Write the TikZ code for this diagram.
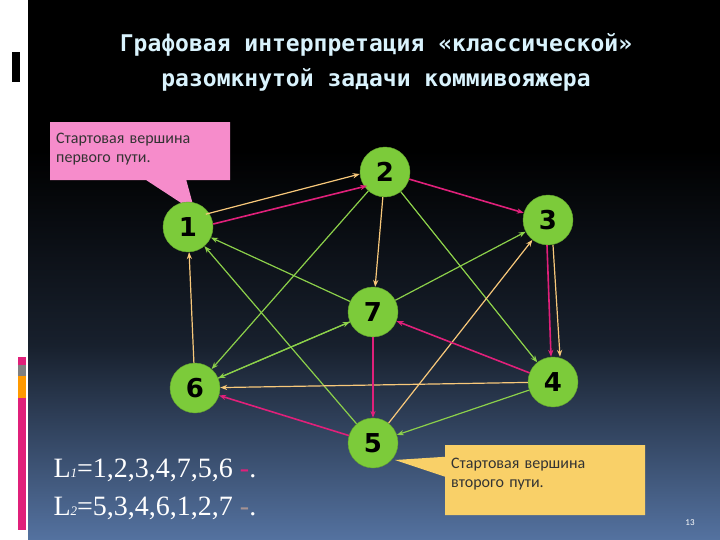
\documentclass[tikz,border=0pt]{standalone}
\usepackage{fontspec}
\setmainfont{Liberation Serif}
\newfontfamily\titlef{DejaVu Sans Mono}
\newfontfamily\calf{Carlito}
\newfontfamily\numf{DejaVu Sans}
\usetikzlibrary{arrows.meta,shapes.callouts}
\definecolor{ngreen}{HTML}{7CCB3A}
\definecolor{pinkc}{HTML}{E0207A}
\definecolor{yelc}{HTML}{F8C87A}
\definecolor{grc}{HTML}{8CD04A}
\definecolor{botblue}{HTML}{5472A0}
\begin{document}
\begin{tikzpicture}[x=1pt,y=-1pt,
 vx/.style={circle,fill=ngreen,draw=ngreen!80!black,minimum size=50pt,inner sep=0pt,font=\numf\bfseries\fontsize{26}{26}\selectfont},
 pk/.style={pinkc,line width=1.6pt,-{Stealth[length=7pt]}},
 yl/.style={yelc,line width=1.2pt,-{Stealth[length=7pt]}},
 gr/.style={grc,line width=1.2pt,-{Stealth[length=7pt]}},
 cl/.style={rectangle callout,inner sep=6pt,align=left,anchor=north west,font=\calf\fontsize{16}{19}\selectfont,text=black!80}]
\useasboundingbox (0,0) rectangle (720,540);
\fill[white] (0,0) rectangle (720,540);
\fill[black] (28,0) rectangle (720,151);
\shade[top color=black,bottom color=botblue,middle color=black!72!botblue] (28,150) rectangle (720,540);
\fill[black] (12,52) rectangle (20,82);
\fill[pinkc] (18,357) rectangle (26,530);
\fill[gray] (18,365) rectangle (26,376);
\fill[orange!80!yellow] (18,376) rectangle (26,398);
\node[text=cyan!15!white,font=\titlef\bfseries\fontsize{23}{35}\selectfont,align=center] (t) at (376,62) {Графовая интерпретация «классической»\\разомкнутой задачи коммивояжера};
% callouts
\node[cl,fill=magenta!45!white,text width=168pt,minimum height=58pt,callout absolute pointer={(195,212)},callout pointer width=40pt,text depth=26pt] (c1) at (50,122) {Стартовая вершина\\первого пути.};
\node[cl,fill=yelc!85!yellow,text width=188pt,minimum height=70pt,callout absolute pointer={(395,460)},callout pointer width=20pt,text depth=34pt] (c2) at (445,445) {Стартовая вершина\\второго пути.};
% nodes
\node[vx] (n1) at (188,227) {1};
\node[vx] (n2) at (385,172) {2};
\node[vx] (n3) at (548,220) {3};
\node[vx] (n7) at (373,312) {7};
\node[vx] (n6) at (195,388) {6};
\node[vx] (n4) at (553,382) {4};
\node[vx] (n5) at (373,443) {5};
% green
\draw[gr] (n2) -- (n6);
\draw[gr] (n2) -- (n4);
\draw[gr] (n7) -- (n1);
\draw[gr] (n5) -- (n1);
\draw[gr] (n7) -- (n6);
\draw[gr] (n6) -- (n7);
\draw[gr] (n7) -- (n3);
\draw[gr] (n4) -- (n5);
% yellow L2
\draw[yl] (n5) -- (n3);
\draw[yl] ([xshift=5pt]n3.south) -- ([xshift=7pt]n4.north);
\draw[yl] (n4) -- (n6);
\draw[yl] (n6) -- (n1);
\draw[yl] ([yshift=-5pt]n1.north east) -- ([yshift=-2pt]n2.west);
\draw[yl] (n2) -- (n7);
% pink L1
\draw[pk] ([yshift=3pt]n1.east) -- ([yshift=4pt]n2.south west);
\draw[pk] (n2) -- (n3);
\draw[pk] ([xshift=-1pt]n3.south) -- ([xshift=-2pt]n4.north);
\draw[pk] (n4) -- (n7);
\draw[pk] (n7) -- (n5);
\draw[pk] (n5) -- (n6);
% paths
\node[anchor=west,text=white,font=\fontsize{28}{28}\selectfont] (l1) at (50,470) {L{\fontsize{13}{13}\selectfont\itshape 1}=1,2,3,4,7,5,6 \textcolor{pinkc}{-}.};
\node[anchor=west,text=white,font=\fontsize{28}{28}\selectfont] (l2) at (50,508) {L{\fontsize{13}{13}\selectfont\itshape 2}=5,3,4,6,1,2,7 \textcolor{gray!70!pink}{-}.};
\node[text=white,font=\calf\fontsize{9}{9}\selectfont] (pg) at (690,523) {13};
\end{tikzpicture}
\end{document}
